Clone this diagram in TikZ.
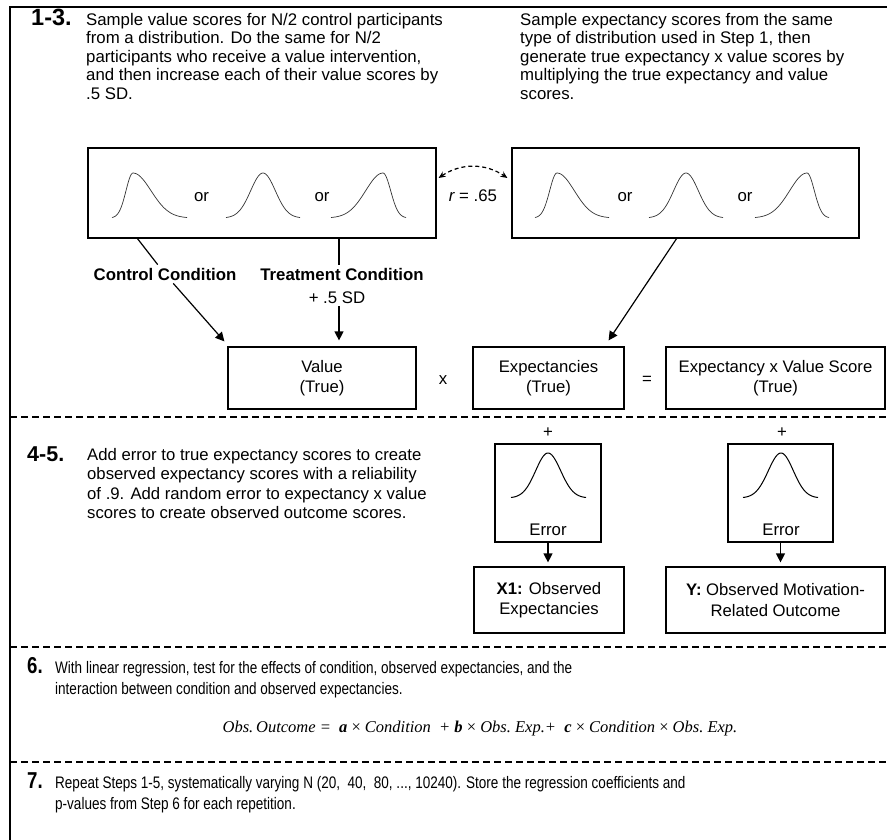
\documentclass[tikz,border=0pt]{standalone}
\usepackage{fontspec}
\setmainfont{Liberation Sans}
\newfontfamily\narrowfont[FakeStretch=0.81]{Liberation Sans}
\newfontfamily\eqfont{Liberation Serif}
\usetikzlibrary{arrows.meta,calc}
\newcommand\bodyfont{\fontsize{16.8}{18.5}\selectfont}
\newcommand\boxfont{\fontsize{16.7}{20.5}\selectfont}
\newcommand\midfont{\fontsize{16.7}{19.5}\selectfont}
\newcommand\narrowtext{\narrowfont\fontsize{16.7}{21}\selectfont}
% split normal curve: (left:peak:right:base)
\def\distcurve[#1](#2:#3:#4:#5){%
  \draw[#1] plot[domain=#2:#3,samples=30] (\x,{#5-45*exp(-0.5*((\x-#3)/((#3-#2)/3))^2)});
  \draw[#1] plot[domain=#3:#4,samples=30] (\x,{#5-45*exp(-0.5*((\x-#3)/((#4-#3)/3))^2)});}

\begin{document}
\begin{tikzpicture}[x=1pt,y=-1pt,
  every node/.style={inner sep=0pt},
  box/.style={draw, line width=1.2pt, align=center, font=\boxfont},
  lbl/.style={font=\bodyfont, inner sep=3pt},
  blbl/.style={font=\bodyfont\bfseries, inner sep=3pt},
  para/.style={align=left, anchor=north west},
  num/.style={font=\bfseries, anchor=base west},
  conn/.style={line width=1.2pt},
  arr/.style={line width=1.2pt, -{Triangle[length=9pt,width=9pt]}},
  sep/.style={line width=1.2pt, dash pattern=on 7pt off 4pt},
  dist/.style={line width=0.7pt, black!80},
  errdist/.style={line width=1pt}]
		%%%%% START %%%%%
		\clip (0,0) rectangle (887,840);
		\useasboundingbox (0,0) rectangle (887,840);
		\draw[line width=1.6pt] (10,7) rectangle (900,860);
		
		% steps 1-3
		\node[num, font=\fontsize{23.5}{24}\selectfont\bfseries] (num13) at (31,26) {1-3.};
		\node[para, font=\bodyfont] (txt13) at (86,13) {Sample value scores for N/2 control participants\\from a distribution. Do the same for N/2\\participants who receive a value intervention,\\and then increase each of their value scores by\\.5 SD.};
		\node[para, font=\bodyfont] (txt13b) at (520,13) {Sample expectancy scores from the same\\type of distribution used in Step 1, then\\generate true expectancy x value scores by\\multiplying the true expectancy and value\\scores.};
		
		\node[box, minimum width=348, minimum height=90] (lbox) at (262,193) {};
		\node[box, minimum width=347, minimum height=90] (rbox) at (685.5,193) {};
		\distcurve[dist](112:133:187:218)
		\distcurve[dist](226:263:300:218)
		\distcurve[dist](331:383:406:218)
		\distcurve[dist](535:557:609:218)
		\distcurve[dist](649:686:723:218)
		\distcurve[dist](755:807:829:218)
		\node[lbl, anchor=base] (or1) at (201.5,201) {or};
		\node[lbl, anchor=base] (or2) at (322,201) {or};
		\node[lbl, anchor=base] (or3) at (625,201) {or};
		\node[lbl, anchor=base] (or4) at (745,201) {or};
		\node[lbl, anchor=base] (rval) at (473,201) {\itshape r\upshape\ = .65};
		\draw[line width=1.2pt, dash pattern=on 4pt off 3pt, {Stealth[length=7pt,width=6pt]}-{Stealth[length=7pt,width=6pt]}]
		  ([shift={(2,-15)}]lbox.east) to[bend left=34] ([shift={(-4,-15)}]rbox.west);
		
		\node[blbl, anchor=base] (ctrl) at (165,280) {Control Condition};
		\node[blbl, anchor=base] (treat) at (342,280) {Treatment Condition};
		\node[lbl, anchor=base] (plus5) at (337,303) {+ .5 SD};
		
		\node[box, minimum width=188, minimum height=62] (value) at (322,378) {Value\\(True)};
		\node[box, minimum width=151, minimum height=62] (expt) at (548.5,378) {Expectancies\\(True)};
		\node[box, minimum width=219, minimum height=62] (evs) at (775.5,378) {Expectancy x Value Score\\(True)};
		\node[lbl] (times) at (443,380) {x};
		\node[lbl] (equals) at (647,380) {=};
		
		\coordinate (lbox-ctrl) at (137,238);
		\coordinate (lbox-treat) at (339,238);
		\coordinate (rbox-exp) at (677,238);
		\draw[conn] (lbox-ctrl) -- (ctrl);
		\draw[arr] (ctrl) -- ([shift={(-3,-5)}]value.north west);
		\draw[conn] (lbox-treat) -- (lbox-treat |- treat.north);
		\draw[arr] (lbox-treat |- plus5.south) -- ([yshift=6pt]lbox-treat |- value.north);
		\draw[arr] (rbox-exp) -- ([shift={(-16,-6)}]expt.north east);
		
		\draw[sep] (10,417) -- (887,417);
		
		% steps 4-5
		\node[num, font=\fontsize{21.5}{22}\selectfont\bfseries] (num45) at (27,461) {4-5.};
		\node[para, font=\midfont] (txt45) at (87,448) {Add error to true expectancy scores to create\\observed expectancy scores with a reliability\\of .9. Add random error to expectancy x value\\scores to create observed outcome scores.};
		
		\node[box, minimum width=106, minimum height=98] (err1) at (548,493) {};
		\node[box, minimum width=105, minimum height=98] (err2) at (780.5,493) {};
		\distcurve[errdist](511:548:586:498)
		\distcurve[errdist](743:781:818:498)
		\node[lbl, anchor=base] (err1lbl) at (548,535) {Error};
		\node[lbl, anchor=base] (err2lbl) at (781,535) {Error};
		\node[lbl] (plus1) at (548,433) {+};
		\node[lbl] (plus2) at (782,433) {+};
		
		\node[box, minimum width=150, minimum height=66] (x1box) at (549,600) {\textbf{X1:} Observed\\Expectancies};
		\node[box, minimum width=219, minimum height=66] (ybox) at (775.5,600) {\textbf{Y:} Observed Motivation-\\Related Outcome};
		\draw[arr, shorten >=4pt] (err1) -- (err1 |- x1box.north);
		\draw[arr, shorten >=4pt] (err2) -- (err2 |- ybox.north);
		
		\draw[sep] (10,647) -- (887,647);
		
		% step 6
		\node[num, font=\narrowfont\fontsize{23}{24}\selectfont\bfseries] (num6) at (27,673) {6.};
		\node[para, font=\narrowtext] (txt6) at (55,661) {With linear regression, test for the effects of condition, observed expectancies, and the\\interaction between condition and observed expectancies.};
		\node[font=\eqfont\fontsize{16.5}{18}\selectfont\itshape] (eq6) at (480,729) {Obs.\,Outcome = \ \textbf{a} \textup{×} Condition \ + \textbf{b} \textup{×} Obs.\ Exp.+ \ \textbf{c} \textup{×} Condition \textup{×} Obs.\ Exp.};
		
		\draw[sep] (10,762) -- (887,762);
		
		% step 7
		\node[num, font=\narrowfont\fontsize{23}{24}\selectfont\bfseries] (num7) at (27,788) {7.};
		\node[para, font=\narrowtext] (txt7) at (55,776) {Repeat Steps 1-5, systematically varying N (20,\ \ 40,\ \ 80, ..., 10240). Store the regression coefficients and\\p-values from Step 6 for each repetition.};
		%%%%% END %%%%%
\end{tikzpicture}
\end{document}
